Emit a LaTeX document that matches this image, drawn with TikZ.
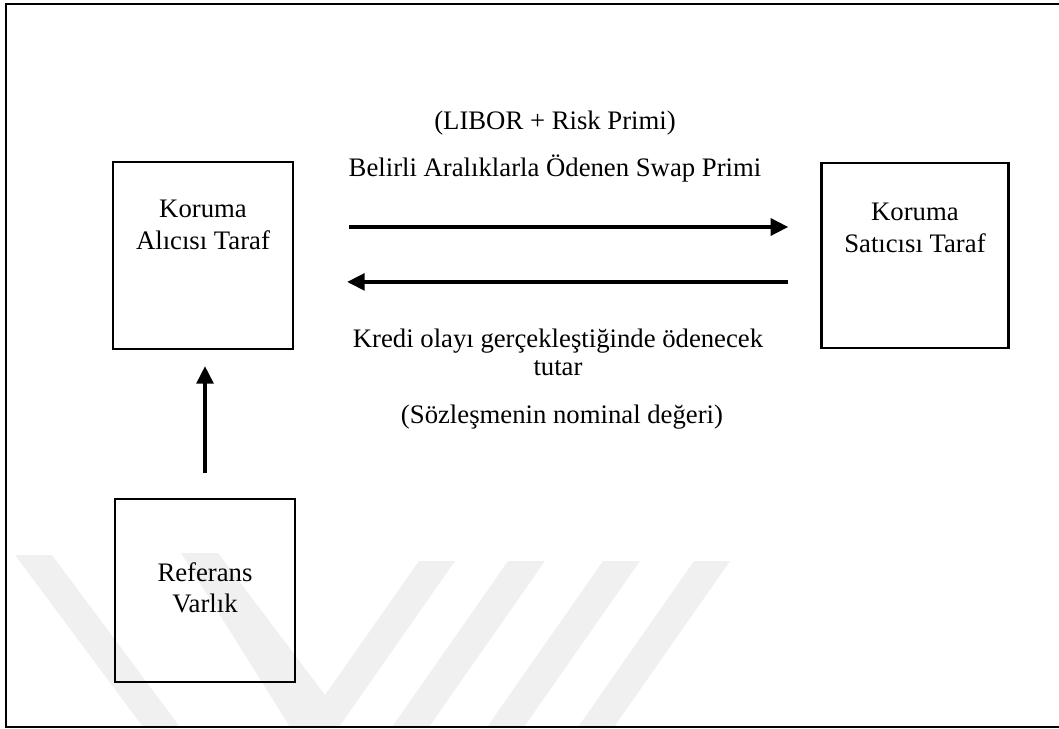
\documentclass[tikz,border=0pt]{standalone}
\usepackage{fontspec}
\setmainfont{Liberation Serif}
\usetikzlibrary{positioning,arrows.meta}
\definecolor{wmgray}{gray}{0.94}
\tikzset{
  kutu/.style={draw, line width=1.6pt, minimum width=4.5cm, minimum height=4.675cm, inner sep=0pt},
  kututext/.style={align=center, font=\fontsize{19}{22.5}\selectfont, inner sep=0pt},
  yazi/.style={align=center, font=\fontsize{19}{19.5}\selectfont, inner sep=0pt},
  akis/.style={-{Triangle[length=12.5pt, width=12pt]}, line width=2.4pt},
  cerceve/.style={line width=1.4pt},
  filigran/.style={fill=wmgray, draw=none},
}

\begin{document}
\begin{tikzpicture}[x=0.025cm, y=-0.025cm]
  \useasboundingbox (0,0) rectangle (1059,729);

  % watermark
  \fill[filigran] (15,555) -- (52,555) -- (180,727) -- (143,727) -- cycle;
  \fill[filigran] (181,553) -- (218,553) -- (325,695) -- (419,561) -- (455,561) -- (339,727) -- (290,727) -- cycle;
  \fill[filigran] (508,561) -- (545,561) -- (429,727) -- (392,727) -- cycle;
  \fill[filigran] (603,561) -- (640,561) -- (524,727) -- (487,727) -- cycle;
  \fill[filigran] (694,561) -- (730,561) -- (614,727) -- (578,727) -- cycle;

  % frame
  \draw[cerceve] (1059,4) -- (6,4) -- (6,727) -- (1059,727);

  \node[kutu] (kalici) at (203,255.5) {};
  \node[kutu, minimum width=4.675cm, minimum height=4.625cm] (ksatici) [right=13.15cm of kalici] {};
  \node[kutu, minimum height=4.575cm] (referans) [below=3.7cm of kalici, xshift=0.05cm] {};

  \node[kututext] (kalicitext) [below=0.975cm of kalici.north] {Koruma\\Alıcısı Taraf};
  \node[kututext] (ksaticitext) [below=1.025cm of ksatici.north] {Koruma\\Satıcısı Taraf};
  \node[kututext] (referanstext) [below=1.6cm of referans.north] {Referans\\Varlık};

  \node[yazi, anchor=base] (libor) at (555,130) {(LIBOR + Risk Primi)};
  \node[yazi, anchor=base] (belirli) at (555,176) {Belirli Aralıklarla Ödenen Swap Primi};
  \node[yazi, anchor=north] (kredi) at (558,329) {Kredi olayı gerçekleştiğinde ödenecek\\tutar};
  \node[yazi, anchor=base] (sozlesme) at (562,423) {(Sözleşmenin nominal değeri)};

  \draw[akis, shorten <=1.375cm, shorten >=0.8cm] ([yshift=0.7125cm]kalici.east) -- ([yshift=0.7125cm]kalici.east -| ksatici.west);
  \draw[akis, shorten <=0.8cm, shorten >=1.325cm] ([yshift=-0.66cm]kalici.east -| ksatici.west) -- ([yshift=-0.66cm]kalici.east);
  \draw[akis, shorten <=0.625cm, shorten >=0.4cm] (referans.north) -- (referans.north |- kalici.south);
\end{tikzpicture}
\end{document}
